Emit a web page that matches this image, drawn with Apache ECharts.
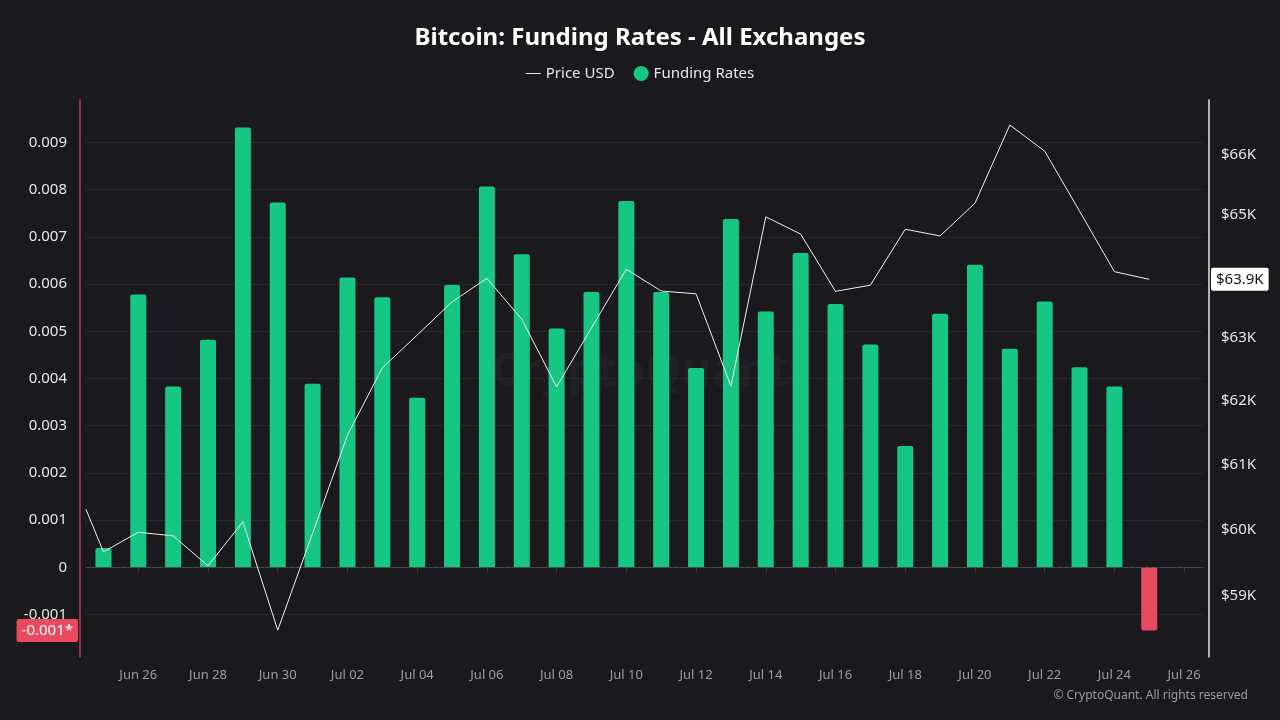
<!DOCTYPE html>
<html>
<head>
<meta charset="utf-8">
<title>Bitcoin: Funding Rates - All Exchanges</title>
<script src="https://cdn.jsdelivr.net/npm/echarts@6/dist/echarts.min.js"></script>
<style>
  html, body { margin: 0; padding: 0; background: #1a1a1e; }
  #main { width: 1280px; height: 720px; }
</style>
</head>
<body>
<div id="main"></div>
<script>
// funding rates, one bar per day
const rateDates = [
  '2024-06-25', '2024-06-26', '2024-06-27', '2024-06-28', '2024-06-29', '2024-06-30',
  '2024-07-01', '2024-07-02', '2024-07-03', '2024-07-04', '2024-07-05', '2024-07-06',
  '2024-07-07', '2024-07-08', '2024-07-09', '2024-07-10', '2024-07-11', '2024-07-12',
  '2024-07-13', '2024-07-14', '2024-07-15', '2024-07-16', '2024-07-17', '2024-07-18',
  '2024-07-19', '2024-07-20', '2024-07-21', '2024-07-22', '2024-07-23', '2024-07-24',
  '2024-07-25'
]
const fundingRates = [
  0.00041, 0.00578, 0.00383, 0.00482, 0.00932, 0.00773,
  0.00389, 0.00614, 0.00572, 0.00359, 0.00598, 0.00807,
  0.00663, 0.00506, 0.00583, 0.00776, 0.00583, 0.00422,
  0.00738, 0.00542, 0.00666, 0.00558, 0.00472, 0.00257,
  0.00537, 0.00641, 0.00463, 0.00563, 0.00424, 0.00383,
  -0.00134
]

// price line (starts half a day earlier)
const priceDates = ['2024-06-24T12:00'].concat(rateDates)
const prices = [
  60310, 59660, 59960, 59905, 59450, 60120, 58485,
  59945, 61460, 62520, 63045, 63580, 63960, 63300,
  62220, 63160, 64110, 63755, 63710, 62230, 64970,
  64685, 63750, 63850, 64765, 64655, 65195, 66505,
  66065, 65065, 64070, 63945
]

// tick labels
const xTickDates = [
  '2024-06-26', '2024-06-28', '2024-06-30', '2024-07-02', '2024-07-04', '2024-07-06',
  '2024-07-08', '2024-07-10', '2024-07-12', '2024-07-14', '2024-07-16', '2024-07-18',
  '2024-07-20', '2024-07-22', '2024-07-24', '2024-07-26'
]
const rateTicks = [-0.001, 0, 0.001, 0.002, 0.003, 0.004, 0.005, 0.006, 0.007, 0.008, 0.009]
const priceTicks = [59000, 60000, 61000, 62000, 63000, 65000, 66000]

const lastRate = fundingRates[fundingRates.length - 1]
const lastPrice = prices[prices.length - 1]
const months = ['Jan', 'Feb', 'Mar', 'Apr', 'May', 'Jun', 'Jul', 'Aug', 'Sep', 'Oct', 'Nov', 'Dec']
const FONT = '"Noto Sans", "Open Sans", sans-serif'

// dates as UTC milliseconds
function ts (s) {
  return Date.parse(s.length > 10 ? s + ':00Z' : s + 'T00:00:00Z')
}

const chart = echarts.init(document.getElementById('main'))
chart.setOption({
  backgroundColor: '#1a1a1e',
  animation: false,
  textStyle: { fontFamily: FONT },
  title: {
    text: 'Bitcoin: Funding Rates - All Exchanges',
    left: 'center',
    top: 21,
    textStyle: { color: '#ffffff', fontSize: 24, fontWeight: 'bold', fontFamily: FONT }
  },
  legend: {
    top: 61,
    left: 'center',
    itemWidth: 15,
    itemHeight: 15,
    itemGap: 19,
    textStyle: { color: '#e6e6e6', fontSize: 15, fontFamily: FONT },
    data: [
      {
        name: 'Price USD',
        // thin dash, padded to a square box so it is not stretched
        icon: 'path://M0,0L0.01,0L0.01,0.01ZM0,6.9L15,6.9L15,8.1L0,8.1ZM0,15L0.01,15L0.01,14.99Z',
        itemStyle: { color: '#e6e6e6' }
      },
      { name: 'Funding Rates', icon: 'circle', itemStyle: { color: '#16c784' } }
    ]
  },
  graphic: [
    {
      type: 'text',
      left: 'center',
      top: 350,
      silent: true,
      style: {
        text: 'CryptoQuant',
        fontSize: 46,
        fontWeight: 'bold',
        fontFamily: FONT,
        fill: 'rgba(255,255,255,0.03)'
      }
    },
    {
      type: 'text',
      right: 32,
      top: 690,
      silent: true,
      style: {
        text: '© CryptoQuant. All rights reserved',
        fontSize: 12,
        fontFamily: FONT,
        fill: '#9a9a9a'
      }
    }
  ],
  grid: { left: 86, right: 77, top: 100, bottom: 63 },
  xAxis: {
    type: 'value',
    min: ts('2024-06-24T12:00'),
    max: ts('2024-07-26T13:00'),
    axisLine: { lineStyle: { color: '#3c3c42' } },
    axisTick: { show: true, length: 5, lineStyle: { color: '#3c3c42' }, customValues: xTickDates.map(ts) },
    splitLine: { show: false },
    axisLabel: {
      customValues: xTickDates.map(ts),
      color: '#9d9d9d',
      fontSize: 13,
      margin: 12,
      formatter (value) {
        const d = new Date(value)
        return months[d.getUTCMonth()] + ' ' + String(d.getUTCDate()).padStart(2, '0')
      }
    }
  },
  yAxis: [
    {
      type: 'value',
      position: 'left',
      offset: 6,
      min: -0.0019,
      max: 0.0099,
      axisLine: { show: true, lineStyle: { color: '#c0394a', width: 1.5 } },
      axisTick: { show: false, customValues: rateTicks },
      splitLine: { show: true, lineStyle: { color: '#27272c', width: 1 } },
      axisLabel: {
        customValues: rateTicks.concat([lastRate]),
        margin: 2,
        formatter (value) {
          if (value === lastRate) return '{mark|' + value.toFixed(3) + '*}'
          if (value === 0) return '{n|0}'
          return '{n|' + value.toFixed(3) + '}'
        },
        rich: {
          n: { color: '#e6e6e6', fontSize: 15, fontFamily: FONT, padding: [0, 11, 0, 0] },
          mark: {
            color: '#ffffff', fontSize: 15, fontFamily: FONT,
            backgroundColor: '#e84a5f', padding: [4, 5, 4, 5], borderRadius: 2
          }
        }
      }
    },
    {
      type: 'log',
      logBase: 10,
      position: 'right',
      offset: 6,
      min: 58087,
      max: 66930,
      axisLine: { show: true, lineStyle: { color: '#e6e6e6', width: 1.5 } },
      axisTick: { show: false },
      splitLine: { show: false },
      axisLabel: {
        customValues: priceTicks.concat([lastPrice]),
        margin: 2,
        formatter (value) {
          if (Math.abs(value - lastPrice) < 1) {
            return '{mark|$' + (Math.floor(value / 100) / 10).toFixed(1) + 'K}'
          }
          return '{n|$' + Math.round(value / 1000) + 'K}'
        },
        rich: {
          n: { color: '#e6e6e6', fontSize: 15, fontFamily: FONT, padding: [0, 0, 0, 10] },
          mark: {
            color: '#111111', fontSize: 15, fontFamily: FONT,
            backgroundColor: '#ffffff', padding: [4, 5, 4, 5], borderRadius: 2
          }
        }
      }
    }
  ],
  series: [
    {
      name: 'Funding Rates',
      type: 'bar',
      yAxisIndex: 0,
      barWidth: 16,
      data: rateDates.map((d, i) => ({
        value: [ts(d), fundingRates[i]],
        itemStyle: {
          color: fundingRates[i] >= 0 ? '#16c784' : '#e84a5f',
          borderRadius: fundingRates[i] >= 0 ? [2, 2, 0, 0] : [0, 0, 2, 2]
        }
      })),
      markLine: {
        silent: true,
        symbol: 'none',
        label: { show: false },
        lineStyle: { color: '#4a4a50', type: 'dashed', width: 1 },
        data: [{ yAxis: 0 }]
      }
    },
    {
      name: 'Price USD',
      type: 'line',
      yAxisIndex: 1,
      symbol: 'none',
      z: 5,
      lineStyle: { color: '#f0f0f0', width: 1 },
      itemStyle: { color: '#f0f0f0' },
      data: priceDates.map((d, i) => [ts(d), prices[i]])
    }
  ]
})
</script>
</body>
</html>
